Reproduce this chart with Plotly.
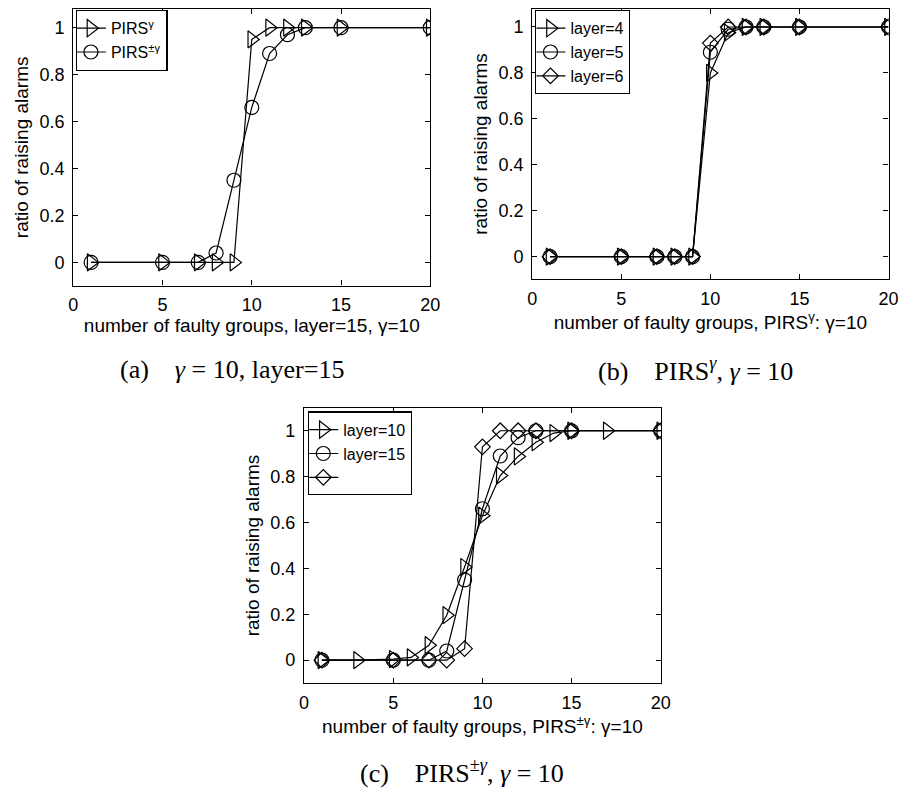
import plotly.graph_objects as go

# ---------------- data ----------------
x_groups = [1, 5, 7, 8, 9, 10, 11, 12, 13, 15, 20]
x_ticks = [0, 5, 10, 15, 20]
y_ticks = [0, 0.2, 0.4, 0.6, 0.8, 1]
y_tick_labels = ["0", "0.2", "0.4", "0.6", "0.8", "1"]

# (a) gamma=10, layer=15
a_pirs_g = [0, 0, 0, 0, 0, 0.95, 1, 1, 1, 1, 1]
a_pirs_pm = [0, 0, 0, 0.04, 0.35, 0.66, 0.89, 0.97, 1, 1, 1]

# (b) PIRS^gamma, gamma=10
b_layer4 = [0, 0, 0, 0, 0, 0.80, 0.975, 1, 1, 1, 1]
b_layer5 = [0, 0, 0, 0, 0, 0.89, 0.99, 1, 1, 1, 1]
b_layer6 = [0, 0, 0, 0, 0, 0.93, 1, 1, 1, 1, 1]

# (c) PIRS^{+-gamma}, gamma=10
x_c_layer10 = [1, 3, 5, 6, 7, 8, 9, 10, 11, 12, 13, 14, 15, 17, 20]
c_layer10 = [0, 0, 0.005, 0.012, 0.065, 0.196, 0.406, 0.63, 0.805, 0.888, 0.95, 0.99, 1, 1, 1]
c_layer15 = [0, 0, 0, 0.04, 0.35, 0.66, 0.89, 0.97, 1, 1, 1]
c_third = [0, 0, 0, 0, 0.05, 0.93, 1, 1, 1, 1, 1]

# ---------------- layout helpers ----------------
# The page body has an 8px margin, so the figure is drawn 8px right/down;
# page-pixel positions below are converted to figure fractions.
OFF = 8
W, H = 911 - OFF, 789 - OFF
SANS = "Liberation Sans, Arial, Helvetica, sans-serif"
SERIF = "Liberation Serif, Times New Roman, serif"


def dx(p):
    return min(max((p - OFF) / W, 0), 1)


def dy(p):
    return min(max(1 - (p - OFF) / H, 0), 1)


def panel_y(top, bottom, px0, px1):
    """domain + range so that value 0 sits at px0 and 1 at px1 (page px)."""
    top_c = max(top, OFF)
    per = px0 - px1

    def val(p):
        return (px0 - p) / per

    return [dy(bottom), dy(top_c)], [val(bottom), val(top_c)]


fig = go.Figure()

MSIZE = {"triangle-right-open": 15, "circle-open": 14, "diamond-open": 12}


def add(x, y, name, symbol, xa, ya, legend):
    fig.add_trace(go.Scatter(
        x=x, y=y, name=name, mode="lines+markers",
        line=dict(color="black", width=1.2),
        marker=dict(symbol=symbol, size=MSIZE[symbol], color="black",
                    line=dict(color="black", width=1.2)),
        xaxis=xa, yaxis=ya, legend=legend, showlegend=True,
    ))


# (a)
add(x_groups, a_pirs_g, "PIRS<sup>γ</sup>", "triangle-right-open", "x", "y", "legend")
add(x_groups, a_pirs_pm, "PIRS<sup>±γ</sup>", "circle-open", "x", "y", "legend")
# (b)
add(x_groups, b_layer4, "layer=4", "triangle-right-open", "x2", "y2", "legend2")
add(x_groups, b_layer5, "layer=5", "circle-open", "x2", "y2", "legend2")
add(x_groups, b_layer6, "layer=6", "diamond-open", "x2", "y2", "legend2")
# (c)
add(x_c_layer10, c_layer10, "layer=10", "triangle-right-open", "x3", "y3", "legend3")
add(x_groups, c_layer15, "layer=15", "circle-open", "x3", "y3", "legend3")
add(x_groups, c_third, "\u00a0", "diamond-open", "x3", "y3", "legend3")

tickfont = dict(family=SANS, size=18, color="black")
titlefont = dict(family=SANS, size=19, color="black")


def xax(domain, anchor, title):
    return dict(domain=domain, anchor=anchor, range=[0, 20], tickvals=x_ticks,
                ticks="inside", ticklen=5, tickcolor="black", tickwidth=1,
                showline=True, linecolor="black", linewidth=1.3, mirror="ticks",
                showgrid=False, zeroline=False, tickfont=tickfont,
                ticklabelstandoff=3,
                title=dict(text=title, font=titlefont, standoff=4))


def yax(domain, rng, anchor):
    return dict(domain=domain, anchor=anchor, range=rng, tickvals=y_ticks,
                ticktext=y_tick_labels,
                ticks="inside", ticklen=5, tickcolor="black", tickwidth=1,
                showline=True, linecolor="black", linewidth=1.3, mirror="ticks",
                showgrid=False, zeroline=False, tickfont=tickfont,
                ticklabelstandoff=4,
                title=dict(text="ratio of raising alarms", font=titlefont, standoff=5))


dom_a, rng_a = panel_y(3.5, 285, 261.7, 26.7)
dom_b, rng_b = panel_y(4, 278.3, 256, 26)
dom_c, rng_c = panel_y(407.7, 682.7, 660, 430.3)

legend_common = dict(xanchor="left", yanchor="top", bgcolor="white",
                     bordercolor="black", borderwidth=1.3,
                     font=dict(family=SANS, size=16, color="black"),
                     itemwidth=30, tracegroupgap=0, indentation=-6)

fig.update_layout(
    width=W, height=H,
    margin=dict(l=0, r=0, t=0, b=0),
    paper_bgcolor="white", plot_bgcolor="white",
    xaxis=xax([dx(69.3), dx(432.3)], "y", "number of faulty groups, layer=15, γ=10"),
    yaxis=yax(dom_a, rng_a, "x"),
    xaxis2=xax([dx(536), dx(898.3)], "y2", "number of faulty groups, PIRS<sup>γ</sup>: γ=10"),
    yaxis2=yax(dom_b, rng_b, "x2"),
    xaxis3=xax([dx(304), dx(666.7)], "y3", "number of faulty groups, PIRS<sup>±γ</sup>: γ=10"),
    yaxis3=yax(dom_c, rng_c, "x3"),
    legend=dict(legend_common, x=dx(71.7), y=dy(9)),
    legend2=dict(legend_common, x=dx(539), y=dy(9)),
    legend3=dict(legend_common, x=dx(308), y=dy(411)),
    showlegend=True,
)

NB = "\u00a0"
captions = [
    ("(a)" + NB * 4 + "<i>γ</i>" + NB + "=" + NB + "10, layer=15", 231, 369),
    ("(b)" + NB * 4 + "PIRS<sup><i>γ</i></sup>, <i>γ</i>" + NB + "=" + NB + "10", 702, 369),
    ("(c)" + NB * 4 + "PIRS<sup>±<i>γ</i></sup>, <i>γ</i>" + NB + "=" + NB + "10", 465, 771),
]
for text, cx, cy in captions:
    fig.add_annotation(text=text, x=dx(cx), y=dy(cy), xref="paper", yref="paper",
                       xanchor="center", yanchor="middle", showarrow=False,
                       font=dict(family=SERIF, size=26, color="black"))

fig.write_html("out.html")
